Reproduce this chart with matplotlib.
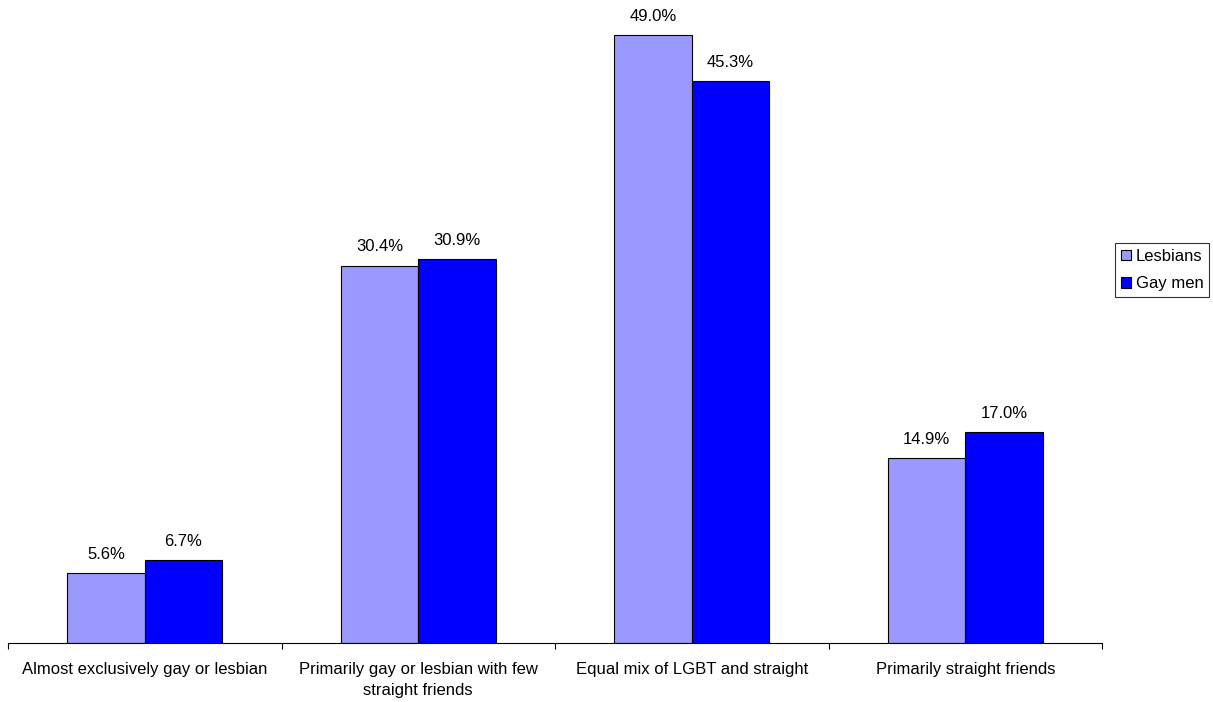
import numpy as np
import matplotlib.pyplot as plt
from matplotlib.patches import Patch

plt.rcParams['font.family'] = ['Liberation Sans', 'DejaVu Sans']

categories = ['Almost exclusively gay or lesbian',
              'Primarily gay or lesbian with few\nstraight friends',
              'Equal mix of LGBT and straight',
              'Primarily straight friends']
lesbians = [5.6, 30.4, 49.0, 14.9]
gay_men = [6.7, 30.9, 45.3, 17.0]
series_names = ['Lesbians', 'Gay men']
colors = ['#9999FF', '#0000FF']

fig = plt.figure(figsize=(12.13, 7.02), dpi=100)
ax = fig.add_axes([8/1213, 59/702, 1094/1213, 643/702])

x = np.arange(len(categories))
w = 0.283
for vals, off, c in [(lesbians, -w/2, colors[0]), (gay_men, w/2, colors[1])]:
    bars = ax.bar(x + off, vals, w, color=c, edgecolor='black', linewidth=0.8)
    for b, v in zip(bars, vals):
        ax.text(b.get_x() + b.get_width()/2, v + 0.9, f'{v:.1f}%',
                ha='center', va='bottom', fontsize=12)

ax.set_xlim(-0.5, len(categories) - 0.5)
ax.set_ylim(0, 51.8)
for s in ['top', 'right', 'left']:
    ax.spines[s].set_visible(False)
ax.spines['bottom'].set_linewidth(0.8)
ax.set_yticks([])
ax.set_xticks(np.arange(len(categories) + 1) - 0.5, minor=True)
ax.set_xticks(x)
ax.set_xticklabels(categories, fontsize=12, linespacing=1.45)
ax.tick_params(axis='x', which='major', length=0, pad=14)
ax.tick_params(axis='x', which='minor', length=4, width=0.8)

handles = [Patch(facecolor=c, edgecolor='black', linewidth=0.8) for c in colors]
leg = fig.legend(handles, series_names, loc='upper left', bbox_to_anchor=(1115/1213, 1 - 243/702),
                 fontsize=12, frameon=True, fancybox=False, edgecolor='black',
                 handlelength=0.6, handleheight=0.6, handletextpad=0.3,
                 borderpad=0.35, labelspacing=0.75, borderaxespad=0)
leg.get_frame().set_linewidth(0.8)

fig.savefig('out.png', dpi=100)
